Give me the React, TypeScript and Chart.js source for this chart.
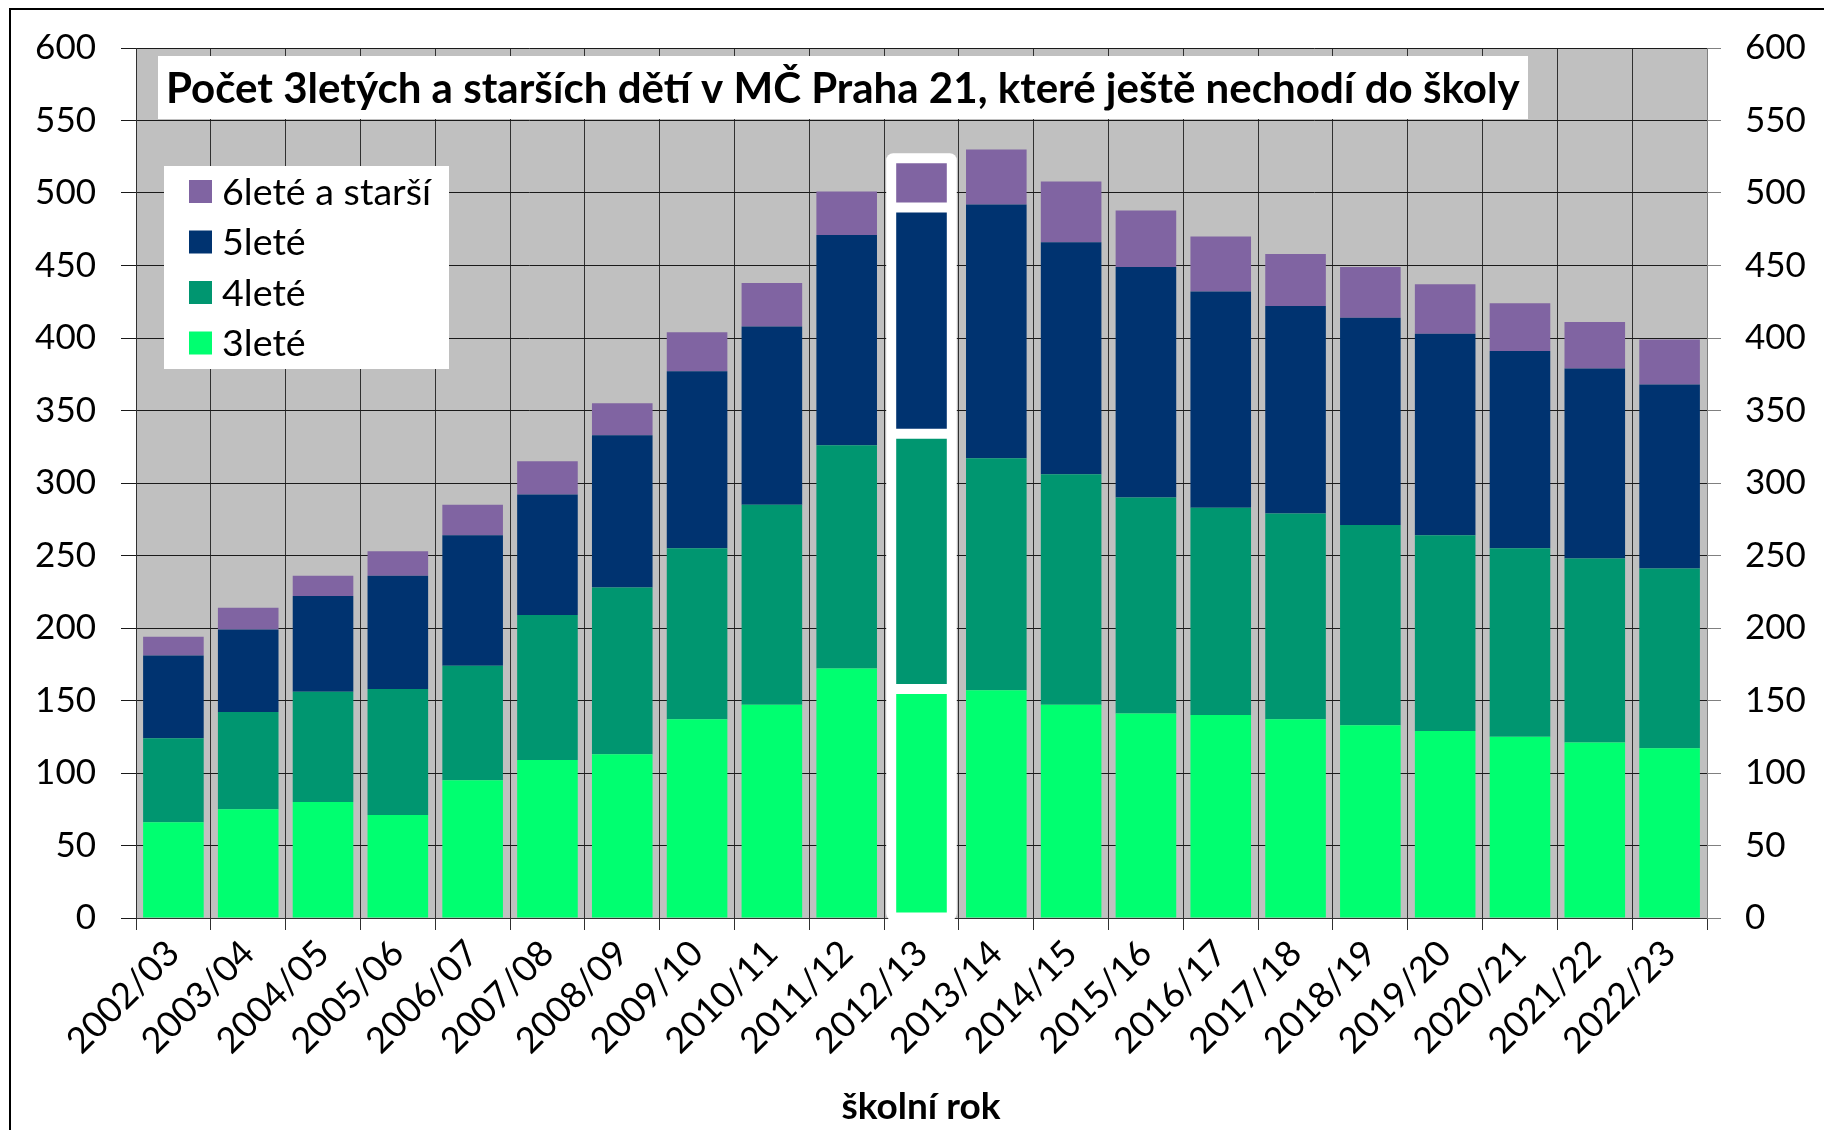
import React, { useEffect, useRef } from 'react';
import { Chart, registerables } from 'chart.js';

Chart.register(...registerables);

const categories = [
  '2002/03', '2003/04', '2004/05', '2005/06', '2006/07', '2007/08', '2008/09',
  '2009/10', '2010/11', '2011/12', '2012/13', '2013/14', '2014/15', '2015/16',
  '2016/17', '2017/18', '2018/19', '2019/20', '2020/21', '2021/22', '2022/23',
];
const age3 = [66, 75, 80, 71, 95, 109, 113, 137, 147, 172, 158, 157, 147, 141, 140, 137, 133, 129, 125, 121, 117];
const age4 = [58, 67, 76, 87, 79, 100, 115, 118, 138, 154, 176, 160, 159, 149, 143, 142, 138, 135, 130, 127, 124];
const age5 = [57, 57, 66, 78, 90, 83, 105, 122, 123, 145, 156, 175, 160, 159, 149, 143, 143, 139, 136, 131, 127];
const age6 = [13, 15, 14, 17, 21, 23, 22, 27, 30, 30, 34, 38, 42, 39, 38, 36, 35, 34, 33, 32, 31];

const seriesNames = ['3leté', '4leté', '5leté', '6leté a starší'];
const seriesColors = ['#00FF70', '#009670', '#003370', '#8064A2'];
const highlighted = '2012/13';

const titleText = 'Počet 3letých a starších dětí v MČ Praha 21, které ještě nechodí do školy';
const xTitleText = 'školní rok';
const FONT = 'Lato, "Open Sans", sans-serif';

function fitFont(ctx: CanvasRenderingContext2D, text: string, weight: string, target: number) {
  ctx.font = `${weight} 40px ${FONT}`;
  const w = ctx.measureText(text).width;
  return (40 * target) / w;
}

const decorPlugin = {
  id: 'decor',
  beforeDraw(chart: any) {
    const { ctx, chartArea: a } = chart;
    ctx.save();
    ctx.fillStyle = '#ffffff';
    ctx.fillRect(0, 0, chart.width, chart.height);
    ctx.fillStyle = '#C0C0C0';
    ctx.fillRect(a.left, a.top, a.right - a.left, a.bottom - a.top);
    ctx.strokeStyle = '#000';
    ctx.lineWidth = 2;
    ctx.beginPath();
    ctx.moveTo(10, chart.height);
    ctx.lineTo(10, 9);
    ctx.lineTo(chart.width, 9);
    ctx.stroke();
    ctx.restore();
  },
  beforeDatasetsDraw(chart: any) {
    const idx = categories.indexOf(highlighted);
    if (idx < 0) return;
    let left = Infinity, right = -Infinity, top = Infinity, bottom = -Infinity;
    chart.data.datasets.forEach((_: any, i: number) => {
      const el = chart.getDatasetMeta(i).data[idx];
      if (!el) return;
      const p = el.getProps(['x', 'y', 'base', 'width'], true);
      left = Math.min(left, p.x - p.width / 2);
      right = Math.max(right, p.x + p.width / 2);
      top = Math.min(top, p.y, p.base);
      bottom = Math.max(bottom, p.y, p.base);
    });
    const pad = 5;
    const { ctx } = chart;
    ctx.save();
    ctx.fillStyle = '#ffffff';
    ctx.beginPath();
    (ctx as any).roundRect(left - pad, top - pad, right - left + 2 * pad, bottom - top + pad + 3, 7);
    ctx.fill();
    ctx.restore();
  },
  afterDraw(chart: any) {
    const { ctx } = chart;
    ctx.save();
    // title box
    ctx.fillStyle = '#ffffff';
    ctx.fillRect(158, 56, 1370, 63);
    const ts = fitFont(ctx, titleText, 'bold', 1354);
    ctx.font = `bold ${ts}px ${FONT}`;
    ctx.fillStyle = '#000';
    ctx.textAlign = 'left';
    ctx.textBaseline = 'middle';
    ctx.fillText(titleText, 166, 89);

    // legend
    ctx.fillStyle = '#ffffff';
    ctx.fillRect(164, 166, 285, 203);
    const ls = fitFont(ctx, seriesNames[3], 'normal', 209);
    ctx.font = `normal ${ls}px ${FONT}`;
    const rowsY = [191.5, 242, 292.5, 343];
    for (let r = 0; r < 4; r++) {
      const si = 3 - r;
      ctx.fillStyle = seriesColors[si];
      ctx.fillRect(189, rowsY[r] - 11.5, 23, 23);
      ctx.fillStyle = '#000';
      ctx.textBaseline = 'middle';
      ctx.fillText(seriesNames[si], 222, rowsY[r] + 1);
    }

    // x axis title
    const xs = fitFont(ctx, xTitleText, 'bold', 159);
    ctx.font = `bold ${xs}px ${FONT}`;
    ctx.textAlign = 'center';
    ctx.fillStyle = '#000';
    ctx.fillText(xTitleText, 921, 1107);
    ctx.restore();
  },
};

export default function App() {
  const ref = useRef<HTMLCanvasElement>(null);
  useEffect(() => {
    const hiIdx = categories.indexOf(highlighted);
    const datasets = [age3, age4, age5, age6].map((values, i) => ({
      label: seriesNames[i],
      data: values,
      backgroundColor: seriesColors[i],
      borderColor: '#ffffff',
      borderWidth: (c: any) => (c.dataIndex === hiIdx ? 5 : 0),
      borderSkipped: (c: any) => (c.dataIndex === hiIdx ? false : 'start'),
      barPercentage: 0.81,
      categoryPercentage: 1,
      yAxisID: 'y',
    }));
    const tickFont = { family: FONT, size: 35 };
    const chart = new Chart(ref.current as HTMLCanvasElement, {
      type: 'bar',
      data: { labels: categories, datasets },
      plugins: [decorPlugin],
      options: {
        responsive: false,
        devicePixelRatio: 1,
        animation: false,
        layout: { padding: { top: 48, left: 0, right: 0, bottom: 0 } },
        plugins: {
          legend: { display: false },
          title: { display: false },
          tooltip: { enabled: false },
        },
        scales: {
          x: {
            stacked: true,
            offset: true,
            grid: { offset: true, color: '#303030', lineWidth: 1, tickLength: 12, tickColor: '#303030' },
            border: { color: '#303030', width: 1 },
            ticks: {
              autoSkip: false,
              minRotation: 45,
              maxRotation: 45,
              font: { family: FONT, size: 36 },
              color: '#000',
              padding: 2,
            },
            afterFit: (s: any) => { s.height = 212; },
          },
          y: {
            stacked: true,
            position: 'left',
            min: 0,
            max: 600,
            ticks: { stepSize: 50, font: tickFont, color: '#000', padding: 25 },
            grid: { color: '#1a1a1a', lineWidth: 1, tickLength: 15, tickColor: '#1a1a1a' },
            border: { color: '#303030', width: 1 },
            afterFit: (s: any) => { s.width = 136; },
          },
          y2: {
            position: 'right',
            min: 0,
            max: 600,
            ticks: { stepSize: 50, font: tickFont, color: '#000', padding: 24 },
            grid: { drawOnChartArea: false, tickLength: 14, tickColor: '#808080' },
            border: { color: '#808080', width: 1 },
            afterFit: (s: any) => { s.width = 117; },
          },
        },
      } as any,
    });
    return () => chart.destroy();
  }, []);
  return (
    <div style={{ position: 'fixed', left: 0, top: 0, width: 1824, height: 1130, background: '#fff' }}>
      <canvas ref={ref} width={1824} height={1130} style={{ width: 1824, height: 1130, display: 'block' }} />
    </div>
  );
}
